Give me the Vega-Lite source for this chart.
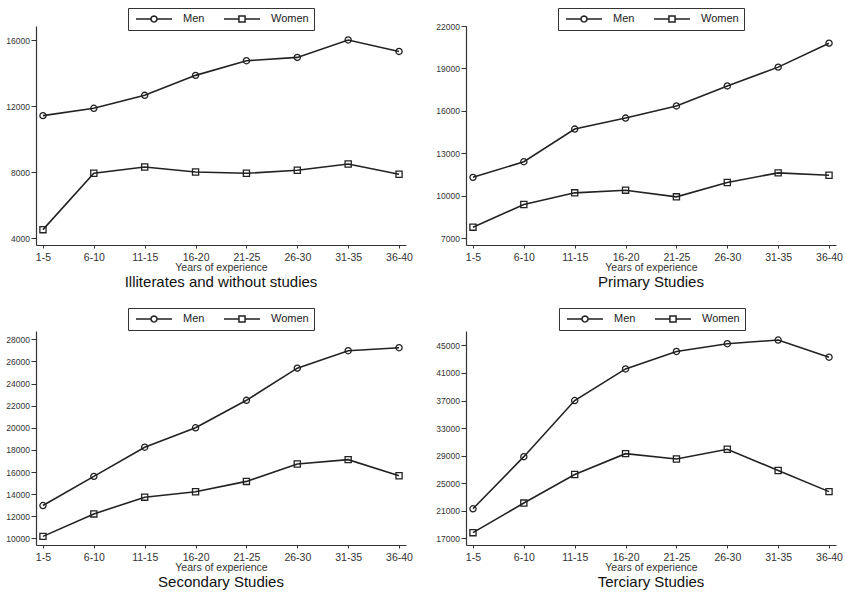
{
  "$schema": "https://vega.github.io/schema/vega-lite/v6.json",
  "padding": {"left": 5, "top": 7, "right": 2, "bottom": 2},
  "background": "white",
  "bounds": "flush",
  "columns": 2,
  "spacing": {"row": 86, "column": 60},
  "datasets": {
    "wages": [
      {"panel": "Illiterates", "sex": "Men", "exp": "1-5", "wage": 11435},
      {"panel": "Illiterates", "sex": "Men", "exp": "6-10", "wage": 11879},
      {"panel": "Illiterates", "sex": "Men", "exp": "11-15", "wage": 12665},
      {"panel": "Illiterates", "sex": "Men", "exp": "16-20", "wage": 13875},
      {"panel": "Illiterates", "sex": "Men", "exp": "21-25", "wage": 14762},
      {"panel": "Illiterates", "sex": "Men", "exp": "26-30", "wage": 14964},
      {"panel": "Illiterates", "sex": "Men", "exp": "31-35", "wage": 16020},
      {"panel": "Illiterates", "sex": "Men", "exp": "36-40", "wage": 15327},
      {"panel": "Illiterates", "sex": "Women", "exp": "1-5", "wage": 4524},
      {"panel": "Illiterates", "sex": "Women", "exp": "6-10", "wage": 7940},
      {"panel": "Illiterates", "sex": "Women", "exp": "11-15", "wage": 8323},
      {"panel": "Illiterates", "sex": "Women", "exp": "16-20", "wage": 8020},
      {"panel": "Illiterates", "sex": "Women", "exp": "21-25", "wage": 7940},
      {"panel": "Illiterates", "sex": "Women", "exp": "26-30", "wage": 8121},
      {"panel": "Illiterates", "sex": "Women", "exp": "31-35", "wage": 8504},
      {"panel": "Illiterates", "sex": "Women", "exp": "36-40", "wage": 7879},
      {"panel": "Primary", "sex": "Men", "exp": "1-5", "wage": 11306},
      {"panel": "Primary", "sex": "Men", "exp": "6-10", "wage": 12412},
      {"panel": "Primary", "sex": "Men", "exp": "11-15", "wage": 14718},
      {"panel": "Primary", "sex": "Men", "exp": "16-20", "wage": 15494},
      {"panel": "Primary", "sex": "Men", "exp": "21-25", "wage": 16353},
      {"panel": "Primary", "sex": "Men", "exp": "26-30", "wage": 17765},
      {"panel": "Primary", "sex": "Men", "exp": "31-35", "wage": 19094},
      {"panel": "Primary", "sex": "Men", "exp": "36-40", "wage": 20788},
      {"panel": "Primary", "sex": "Women", "exp": "1-5", "wage": 7788},
      {"panel": "Primary", "sex": "Women", "exp": "6-10", "wage": 9388},
      {"panel": "Primary", "sex": "Women", "exp": "11-15", "wage": 10212},
      {"panel": "Primary", "sex": "Women", "exp": "16-20", "wage": 10400},
      {"panel": "Primary", "sex": "Women", "exp": "21-25", "wage": 9930},
      {"panel": "Primary", "sex": "Women", "exp": "26-30", "wage": 10941},
      {"panel": "Primary", "sex": "Women", "exp": "31-35", "wage": 11624},
      {"panel": "Primary", "sex": "Women", "exp": "36-40", "wage": 11459},
      {"panel": "Secondary", "sex": "Men", "exp": "1-5", "wage": 12970},
      {"panel": "Secondary", "sex": "Men", "exp": "6-10", "wage": 15606},
      {"panel": "Secondary", "sex": "Men", "exp": "11-15", "wage": 18242},
      {"panel": "Secondary", "sex": "Men", "exp": "16-20", "wage": 20000},
      {"panel": "Secondary", "sex": "Men", "exp": "21-25", "wage": 22485},
      {"panel": "Secondary", "sex": "Men", "exp": "26-30", "wage": 25394},
      {"panel": "Secondary", "sex": "Men", "exp": "31-35", "wage": 26970},
      {"panel": "Secondary", "sex": "Men", "exp": "36-40", "wage": 27242},
      {"panel": "Secondary", "sex": "Women", "exp": "1-5", "wage": 10182},
      {"panel": "Secondary", "sex": "Women", "exp": "6-10", "wage": 12212},
      {"panel": "Secondary", "sex": "Women", "exp": "11-15", "wage": 13727},
      {"panel": "Secondary", "sex": "Women", "exp": "16-20", "wage": 14212},
      {"panel": "Secondary", "sex": "Women", "exp": "21-25", "wage": 15152},
      {"panel": "Secondary", "sex": "Women", "exp": "26-30", "wage": 16727},
      {"panel": "Secondary", "sex": "Women", "exp": "31-35", "wage": 17121},
      {"panel": "Secondary", "sex": "Women", "exp": "36-40", "wage": 15667},
      {"panel": "Terciary", "sex": "Men", "exp": "1-5", "wage": 21293},
      {"panel": "Terciary", "sex": "Men", "exp": "6-10", "wage": 28854},
      {"panel": "Terciary", "sex": "Men", "exp": "11-15", "wage": 37000},
      {"panel": "Terciary", "sex": "Men", "exp": "16-20", "wage": 41585},
      {"panel": "Terciary", "sex": "Men", "exp": "21-25", "wage": 44122},
      {"panel": "Terciary", "sex": "Men", "exp": "26-30", "wage": 45244},
      {"panel": "Terciary", "sex": "Men", "exp": "31-35", "wage": 45780},
      {"panel": "Terciary", "sex": "Men", "exp": "36-40", "wage": 43293},
      {"panel": "Terciary", "sex": "Women", "exp": "1-5", "wage": 17829},
      {"panel": "Terciary", "sex": "Women", "exp": "6-10", "wage": 22122},
      {"panel": "Terciary", "sex": "Women", "exp": "11-15", "wage": 26268},
      {"panel": "Terciary", "sex": "Women", "exp": "16-20", "wage": 29293},
      {"panel": "Terciary", "sex": "Women", "exp": "21-25", "wage": 28512},
      {"panel": "Terciary", "sex": "Women", "exp": "26-30", "wage": 29927},
      {"panel": "Terciary", "sex": "Women", "exp": "31-35", "wage": 26854},
      {"panel": "Terciary", "sex": "Women", "exp": "36-40", "wage": 23780}
    ]
  },
  "concat": [
    {
      "data": {"name": "wages"},
      "transform": [{"filter": "datum.panel === 'Illiterates'"}],
      "width": 370,
      "height": 219,
      "title": {"text": "Illiterates and without studies"},
      "encoding": {
        "x": {"field": "exp", "type": "ordinal", "sort": null, "title": "Years of experience", "scale": {"type": "point", "padding": 0.137}},
        "y": {"field": "wage", "type": "quantitative", "title": null, "scale": {"domain": [3594, 16867], "nice": false, "zero": false}, "axis": {"values": [4000, 8000, 12000, 16000], "format": "d"}}
      },
      "layer": [
        {"mark": {"type": "line", "color": "#222", "strokeWidth": 1.6}, "encoding": {"detail": {"field": "sex"}}},
        {"mark": {"type": "point", "filled": false, "color": "#222", "strokeWidth": 1.3, "size": 38, "opacity": 1}, "encoding": {"shape": {"field": "sex", "scale": {"domain": ["Men", "Women"], "range": ["circle", "square"]}, "legend": null}}},
        {"transform": [{"filter": "datum.wage < 0"}], "mark": {"type": "point", "filled": false, "color": "#222", "strokeWidth": 1.5, "size": 1296, "opacity": 1}, "encoding": {"shape": {"field": "sex", "scale": {"domain": ["Men", "Women"], "range": ["M-1,0L-0.17,0M0.17,0L0.147,0.085L0.085,0.147L0,0.17L-0.085,0.147L-0.147,0.085L-0.17,0L-0.147,-0.085L-0.085,-0.147L0,-0.17L0.085,-0.147L0.147,-0.085ZM0.17,0L1,0", "M-1,0L-0.17,0M-0.17,-0.17L0.17,-0.17L0.17,0.17L-0.17,0.17ZM0.17,0L1,0"]}, "legend": {"legendX": 92, "legendY": -18}}}}
      ],
      "resolve": {"scale": {"shape": "independent"}}
    },
    {
      "data": {"name": "wages"},
      "transform": [{"filter": "datum.panel === 'Primary'"}],
      "width": 370,
      "height": 219,
      "title": {"text": "Primary Studies"},
      "encoding": {
        "x": {"field": "exp", "type": "ordinal", "sort": null, "title": "Years of experience", "scale": {"type": "point", "padding": 0.137}},
        "y": {"field": "wage", "type": "quantitative", "title": null, "scale": {"domain": [6527, 22000], "nice": false, "zero": false}, "axis": {"values": [7000, 10000, 13000, 16000, 19000, 22000], "format": "d"}}
      },
      "layer": [
        {"mark": {"type": "line", "color": "#222", "strokeWidth": 1.6}, "encoding": {"detail": {"field": "sex"}}},
        {"mark": {"type": "point", "filled": false, "color": "#222", "strokeWidth": 1.3, "size": 38, "opacity": 1}, "encoding": {"shape": {"field": "sex", "scale": {"domain": ["Men", "Women"], "range": ["circle", "square"]}, "legend": null}}},
        {"transform": [{"filter": "datum.wage < 0"}], "mark": {"type": "point", "filled": false, "color": "#222", "strokeWidth": 1.5, "size": 1296, "opacity": 1}, "encoding": {"shape": {"field": "sex", "scale": {"domain": ["Men", "Women"], "range": ["M-1,0L-0.17,0M0.17,0L0.147,0.085L0.085,0.147L0,0.17L-0.085,0.147L-0.147,0.085L-0.17,0L-0.147,-0.085L-0.085,-0.147L0,-0.17L0.085,-0.147L0.147,-0.085ZM0.17,0L1,0", "M-1,0L-0.17,0M-0.17,-0.17L0.17,-0.17L0.17,0.17L-0.17,0.17ZM0.17,0L1,0"]}, "legend": {"legendX": 92, "legendY": -18}}}}
      ],
      "resolve": {"scale": {"shape": "independent"}}
    },
    {
      "data": {"name": "wages"},
      "transform": [{"filter": "datum.panel === 'Secondary'"}],
      "width": 370,
      "height": 214,
      "title": {"text": "Secondary Studies"},
      "encoding": {
        "x": {"field": "exp", "type": "ordinal", "sort": null, "title": "Years of experience", "scale": {"type": "point", "padding": 0.137}},
        "y": {"field": "wage", "type": "quantitative", "title": null, "scale": {"domain": [9401, 28753], "nice": false, "zero": false}, "axis": {"values": [10000, 12000, 14000, 16000, 18000, 20000, 22000, 24000, 26000, 28000], "format": "d"}}
      },
      "layer": [
        {"mark": {"type": "line", "color": "#222", "strokeWidth": 1.6}, "encoding": {"detail": {"field": "sex"}}},
        {"mark": {"type": "point", "filled": false, "color": "#222", "strokeWidth": 1.3, "size": 38, "opacity": 1}, "encoding": {"shape": {"field": "sex", "scale": {"domain": ["Men", "Women"], "range": ["circle", "square"]}, "legend": null}}},
        {"transform": [{"filter": "datum.wage < 0"}], "mark": {"type": "point", "filled": false, "color": "#222", "strokeWidth": 1.5, "size": 1296, "opacity": 1}, "encoding": {"shape": {"field": "sex", "scale": {"domain": ["Men", "Women"], "range": ["M-1,0L-0.17,0M0.17,0L0.147,0.085L0.085,0.147L0,0.17L-0.085,0.147L-0.147,0.085L-0.17,0L-0.147,-0.085L-0.085,-0.147L0,-0.17L0.085,-0.147L0.147,-0.085ZM0.17,0L1,0", "M-1,0L-0.17,0M-0.17,-0.17L0.17,-0.17L0.17,0.17L-0.17,0.17ZM0.17,0L1,0"]}, "legend": {"legendX": 92, "legendY": -23}}}}
      ],
      "resolve": {"scale": {"shape": "independent"}}
    },
    {
      "data": {"name": "wages"},
      "transform": [{"filter": "datum.panel === 'Terciary'"}],
      "width": 370,
      "height": 214,
      "title": {"text": "Terciary Studies"},
      "encoding": {
        "x": {"field": "exp", "type": "ordinal", "sort": null, "title": "Years of experience", "scale": {"type": "point", "padding": 0.137}},
        "y": {"field": "wage", "type": "quantitative", "title": null, "scale": {"domain": [16036, 47089], "nice": false, "zero": false}, "axis": {"values": [17000, 21000, 25000, 29000, 33000, 37000, 41000, 45000], "format": "d"}}
      },
      "layer": [
        {"mark": {"type": "line", "color": "#222", "strokeWidth": 1.6}, "encoding": {"detail": {"field": "sex"}}},
        {"mark": {"type": "point", "filled": false, "color": "#222", "strokeWidth": 1.3, "size": 38, "opacity": 1}, "encoding": {"shape": {"field": "sex", "scale": {"domain": ["Men", "Women"], "range": ["circle", "square"]}, "legend": null}}},
        {"transform": [{"filter": "datum.wage < 0"}], "mark": {"type": "point", "filled": false, "color": "#222", "strokeWidth": 1.5, "size": 1296, "opacity": 1}, "encoding": {"shape": {"field": "sex", "scale": {"domain": ["Men", "Women"], "range": ["M-1,0L-0.17,0M0.17,0L0.147,0.085L0.085,0.147L0,0.17L-0.085,0.147L-0.147,0.085L-0.17,0L-0.147,-0.085L-0.085,-0.147L0,-0.17L0.085,-0.147L0.147,-0.085ZM0.17,0L1,0", "M-1,0L-0.17,0M-0.17,-0.17L0.17,-0.17L0.17,0.17L-0.17,0.17ZM0.17,0L1,0"]}, "legend": {"legendX": 93, "legendY": -23}}}}
      ],
      "resolve": {"scale": {"shape": "independent"}}
    }
  ],
  "resolve": {"scale": {"shape": "independent"}, "legend": {"shape": "independent"}},
  "config": {
    "font": "Liberation Sans",
    "view": {"stroke": null},
    "axis": {"grid": false, "domainColor": "#333", "tickColor": "#333", "labelColor": "#333", "titleColor": "#333", "labelFont": "Liberation Sans", "titleFont": "Liberation Sans", "domainWidth": 1.2, "tickWidth": 1},
    "axisX": {"labelAngle": 0, "labelFontSize": 10.5, "tickSize": 3, "labelPadding": 4, "titleFontSize": 10.5, "titleFontWeight": "normal", "titlePadding": 0},
    "axisY": {"labelFontSize": 8.5, "tickSize": 5, "labelPadding": 1.5},
    "title": {"orient": "bottom", "anchor": "middle", "fontSize": 15, "fontWeight": "normal", "color": "#111", "font": "Liberation Sans", "offset": 2},
    "legend": {
      "orient": "none",
      "direction": "horizontal",
      "columns": 2,
      "title": null,
      "strokeColor": "#333",
      "fillColor": "white",
      "padding": 5,
      "clipHeight": 12,
      "symbolSize": 1296,
      "symbolOffset": 2,
      "labelOffset": 10,
      "columnPadding": 16,
      "labelFontSize": 11,
      "labelFont": "Liberation Sans",
      "labelColor": "#222",
      "symbolStrokeColor": "#222",
      "symbolStrokeWidth": 1.5,
      "symbolFillColor": "transparent"
    }
  }
}
